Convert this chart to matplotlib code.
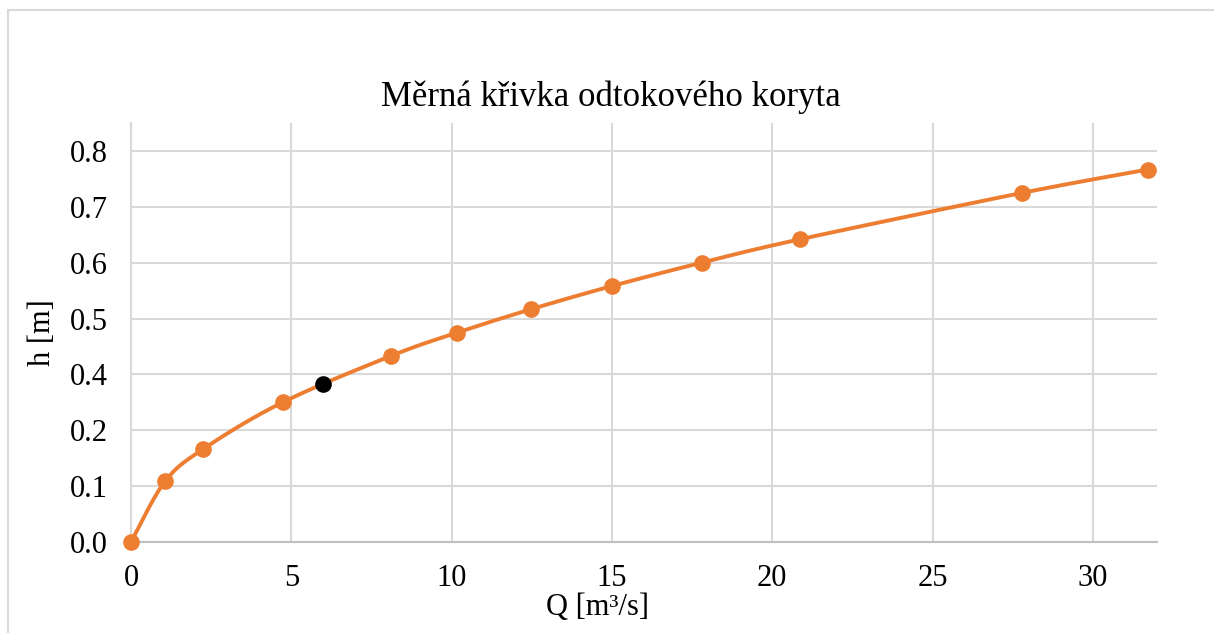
import numpy as np
import matplotlib
matplotlib.use("Agg")
import matplotlib.pyplot as plt
from matplotlib.patches import Rectangle

# ---- data ----
q_values = [0.0, 1.06, 2.26, 4.73, 8.12, 10.18, 12.48, 15.01, 17.80, 20.85, 27.80, 31.71]
h_values = [0.0, 0.13, 0.20, 0.30, 0.40, 0.45, 0.50, 0.55, 0.60, 0.65, 0.75, 0.80]
design_q = [5.98]
design_h = [0.34]

x_ticks = [0, 5, 10, 15, 20, 25, 30]
x_tick_labels = ["0", "5", "10", "15", "20", "25", "30"]
y_ticks = [0.0, 0.12, 0.24, 0.36, 0.48, 0.60, 0.72, 0.84]
y_tick_labels = ["0.0", "0.1", "0.2", "0.4", "0.5", "0.6", "0.7", "0.8"]

title = "Měrná křivka odtokového koryta"
xlabel = "Q [m³/s]"
ylabel = "h [m]"

ORANGE = "#ED7D31"
GRID = "#d9d9d9"
FONT = "Liberation Serif"

W, H = 1214, 633
fig = plt.figure(figsize=(W / 100, H / 100), dpi=100)

# outer chart border
fig.patches.append(Rectangle((8 / W, -0.1), 1.2, 1.1 - 10 / H, transform=fig.transFigure,
                             fill=False, edgecolor=GRID, linewidth=1.5))

ax = fig.add_axes([131 / W, (H - 542) / H, (1157 - 131) / W, (542 - 123) / H])
ax.set_xlim(0, 32)
ax.set_ylim(0, 0.9)


def excel_smooth(xs, ys, n=40):
    pts = ax.transData.transform(np.column_stack([xs, ys]))
    out = []
    m = len(pts)
    for i in range(m - 1):
        p0 = pts[i - 1] if i > 0 else pts[i]
        p1 = pts[i]
        p2 = pts[i + 1]
        p3 = pts[i + 2] if i + 2 < m else pts[i + 1]
        c1 = p1 + (p2 - p0) / 6.0
        c2 = p2 - (p3 - p1) / 6.0
        t = np.linspace(0, 1, n)[:, None]
        seg = ((1 - t) ** 3) * p1 + 3 * ((1 - t) ** 2) * t * c1 + 3 * (1 - t) * t ** 2 * c2 + t ** 3 * p2
        out.append(seg if i == 0 else seg[1:])
    out = np.vstack(out)
    return ax.transData.inverted().transform(out)


curve = excel_smooth(q_values, h_values)
ax.plot(curve[:, 0], curve[:, 1], color=ORANGE, linewidth=2.8, solid_capstyle="round",
        zorder=3, clip_on=False)
ax.plot(q_values, h_values, linestyle="none", marker="o", markersize=12,
        color=ORANGE, markeredgewidth=0, zorder=4, clip_on=False)
ax.plot(design_q, design_h, linestyle="none", marker="o", markersize=12,
        color="black", markeredgewidth=0, zorder=5, clip_on=False)

ax.set_xticks(x_ticks)
ax.set_xticklabels(x_tick_labels)
ax.set_yticks(y_ticks)
ax.set_yticklabels(y_tick_labels)
ax.grid(True, color=GRID, linewidth=1.5)
ax.set_axisbelow(True)
for s in ["top", "right"]:
    ax.spines[s].set_visible(False)
ax.spines["left"].set_color(GRID)
ax.spines["left"].set_linewidth(1.5)
ax.spines["bottom"].set_color("#bfbfbf")
ax.spines["bottom"].set_linewidth(1.5)
ax.tick_params(axis="both", length=0, labelsize=22, labelcolor="black")
ax.tick_params(axis="x", pad=16)
ax.tick_params(axis="y", pad=17)
for lab in ax.get_xticklabels() + ax.get_yticklabels():
    lab.set_fontfamily(FONT)

fig.text(611 / W, 1 - 97 / H, title, ha="center", va="center", fontsize=25, fontfamily=FONT)
fig.text(598 / W, 1 - 607 / H, xlabel, ha="center", va="center", fontsize=22, fontfamily=FONT)
fig.text(42 / W, 1 - 333 / H, ylabel, ha="center", va="center", rotation=90, fontsize=22, fontfamily=FONT)

fig.savefig("out.png", dpi=100)
